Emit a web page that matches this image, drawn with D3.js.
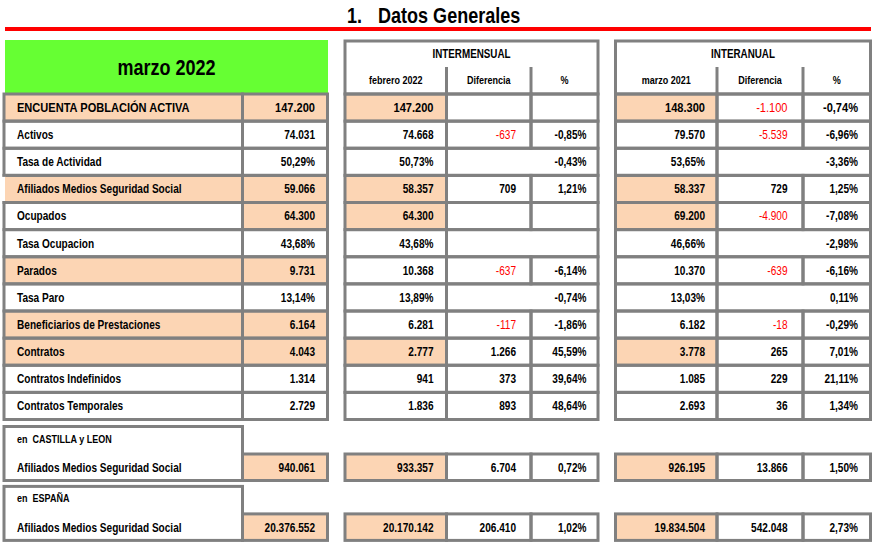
<!DOCTYPE html>
<html><head><meta charset="utf-8">
<script src="https://cdn.jsdelivr.net/npm/d3@7"></script>
<style>
body{margin:0;background:#fff}
svg{display:block}
text{font-family:"Liberation Sans",Arial,sans-serif;font-weight:bold;fill:#000;white-space:pre}
</style>
</head><body>
<svg id="c" width="882" height="544"></svg>
<script>
// ---------------- DATA ----------------
const title = "Datos Generales";
const titleNumber = "1.";
const currentMonth = "marzo 2022";
const monthlyHeader = "INTERMENSUAL";
const yearlyHeader = "INTERANUAL";
const previousMonth = "febrero 2022";
const previousYear = "marzo 2021";
const diffHeader = "Diferencia";
const pctHeader = "%";

const rowLabels = ["ENCUENTA POBLACIÓN ACTIVA","Activos","Tasa de Actividad","Afiliados Medios Seguridad Social","Ocupados","Tasa Ocupacion","Parados","Tasa Paro","Beneficiarios de Prestaciones","Contratos","Contratos Indefinidos","Contratos Temporales"];
const rateRows = [2,5,7];
const currentValues = [147200,74031,50.29,59066,64300,43.68,9731,13.14,6164,4043,1314,2729];
const prevMonthValues = [147200,74668,50.73,58357,64300,43.68,10368,13.89,6281,2777,941,1836];
const prevMonthDiff = [null,-637,null,709,null,null,-637,null,-117,1266,373,893];
const prevMonthPct = [null,-0.85,-0.43,1.21,null,null,-6.14,-0.74,-1.86,45.59,39.64,48.64];
const prevYearValues = [148300,79570,53.65,58337,69200,46.66,10370,13.03,6182,3778,1085,2693];
const prevYearDiff = [-1100,-5539,null,729,-4900,null,-639,null,-18,265,229,36];
const prevYearPct = [-0.74,-6.96,-3.36,1.25,-7.08,-2.98,-6.16,0.11,-0.29,7.01,21.11,1.34];

const highlightLabelRows = [0,3,6,8,9];
const highlightCurrentRows = [0,3,4,6,8,9];
const highlightPrevRows = [0,3,4,9];

const regionNames = ["en  CASTILLA y LEON","en  ESPAÑA"];
const regionLabel = "Afiliados Medios Seguridad Social";
const regionCurrent = [940061,20376552];
const regionPrevMonth = [933357,20170142];
const regionPrevMonthDiff = [6704,206410];
const regionPrevMonthPct = [0.72,1.02];
const regionPrevYear = [926195,19834504];
const regionPrevYearDiff = [13866,542048];
const regionPrevYearPct = [1.50,2.73];

// ---------------- LAYOUT ----------------
const GRAY="#808080", PEACH="#FCD5B4", GREEN="#66FF33", RED="#FF0000";
const NARROW = 0.82;
const svg = d3.select("#c");
const loc = d3.formatLocale({decimal:",",thousands:".",grouping:[3],currency:["","€"],minus:"-"});
const fInt = loc.format(",d");
const fDec = loc.format(",.2f");
const fPct = v => fDec(v)+"%";

const L = [4,242.5,327.5];
const M = [345,446.5,531,598];
const R = [615.5,717,803,870.5];

const y = d3.scaleBand().domain(d3.range(rowLabels.length)).range([94,419.5]);
const ry = d3.scaleBand().domain(d3.range(regionNames.length)).range([426.5,546.3]);
const regionH = 54;

const cells = [];
const texts = [];
const vlines = [];
function cell(x0,x1,y0,y1,fill){cells.push({x0,x1,y0,y1,fill});}
function txt(x,yy,s,opt={}){texts.push(Object.assign({x,y:yy,s,anchor:"end",size:12.3,color:"#000"},opt));}

// title
txt(347,22.5,titleNumber,{anchor:"start",size:22});
txt(378,22.5,title,{anchor:"start",size:22});
svg.append("rect").attr("x",5).attr("y",27).attr("width",866).attr("height",4).attr("fill",RED);

// green header
svg.append("rect").attr("x",5).attr("y",40).attr("width",323).attr("height",53).attr("fill",GREEN);
txt(166.5,75,currentMonth,{anchor:"middle",size:22});

// section headers
function header(C,name,sub){
  cell(C[0],C[3],41,94,"#fff");
  txt((C[0]+C[3])/2,57.8,name,{anchor:"middle",size:12});
  txt((C[0]+C[1])/2,84,sub,{anchor:"middle",size:11});
  txt((C[1]+C[2])/2,84,diffHeader,{anchor:"middle",size:11});
  txt((C[2]+C[3])/2,84,pctHeader,{anchor:"middle",size:11});
  vlines.push({x:C[1],y0:67,y1:94});
  vlines.push({x:C[2],y0:67,y1:94});
}
header(M,monthlyHeader,previousMonth);
header(R,yearlyHeader,previousYear);

const val = (v,i)=> v==null?"":(rateRows.includes(i)?fPct(v):fInt(v));
const gaps = [];
rowLabels.forEach((lab,i)=>{
  const y0=y(i), y1=y0+y.bandwidth(), cy=(y0+y1)/2;
  const fs = i===0?13.5:12.3;
  const bl = cy+0.36*fs;
  const isRate = rateRows.includes(i);
  cell(L[0],L[1],y0,y1,highlightLabelRows.includes(i)?PEACH:"#fff");
  cell(L[1],L[2],y0,y1,highlightCurrentRows.includes(i)?PEACH:"#fff");
  if(i===3) gaps.push([y0,y1]);
  txt(17,bl,lab,{anchor:"start",size:fs});
  txt(L[2]-12.5,bl,val(currentValues[i],i),{size:fs});
  // monthly
  cell(M[0],M[1],y0,y1,highlightPrevRows.includes(i)?PEACH:"#fff");
  txt(M[1]-13,bl,val(prevMonthValues[i],i),{size:fs});
  if(isRate){ cell(M[1],M[3],y0,y1,"#fff"); }
  else { cell(M[1],M[2],y0,y1,"#fff"); cell(M[2],M[3],y0,y1,"#fff"); }
  if(prevMonthDiff[i]!=null) txt(M[2]-15,bl,fInt(prevMonthDiff[i]),{size:fs,color:prevMonthDiff[i]<0?RED:"#000",weight:prevMonthDiff[i]<0?"normal":"bold"});
  if(prevMonthPct[i]!=null) txt(M[3]-11.5,bl,fPct(prevMonthPct[i]),{size:fs});
  // yearly
  cell(R[0],R[1],y0,y1,highlightPrevRows.includes(i)?PEACH:"#fff");
  txt(R[1]-12,bl,val(prevYearValues[i],i),{size:fs});
  if(isRate){ cell(R[1],R[3],y0,y1,"#fff"); }
  else { cell(R[1],R[2],y0,y1,"#fff"); cell(R[2],R[3],y0,y1,"#fff"); }
  if(prevYearDiff[i]!=null) txt(R[2]-15.5,bl,fInt(prevYearDiff[i]),{size:fs,color:prevYearDiff[i]<0?RED:"#000",weight:prevYearDiff[i]<0?"normal":"bold"});
  if(prevYearPct[i]!=null) txt(R[3]-12.5,bl,fPct(prevYearPct[i]),{size:fs});
});

// regions
regionNames.forEach((name,k)=>{
  const t=ry(k), b=t+regionH, m=t+27.5, cy=(m+b)/2, bl=cy+0.36*12.3;
  cell(L[0],L[1],t,b,"#fff");
  cell(L[1],L[2],m,b,PEACH);
  cell(M[0],M[1],m,b,PEACH); cell(M[1],M[2],m,b,"#fff"); cell(M[2],M[3],m,b,"#fff");
  cell(R[0],R[1],m,b,PEACH); cell(R[1],R[2],m,b,"#fff"); cell(R[2],R[3],m,b,"#fff");
  txt(17,t+16,name,{anchor:"start",size:11});
  txt(17,bl,regionLabel,{anchor:"start"});
  txt(L[2]-12.5,bl,fInt(regionCurrent[k]));
  txt(M[1]-13,bl,fInt(regionPrevMonth[k]));
  txt(M[2]-15,bl,fInt(regionPrevMonthDiff[k]));
  txt(M[3]-11.5,bl,fPct(regionPrevMonthPct[k]));
  txt(R[1]-12,bl,fInt(regionPrevYear[k]));
  txt(R[2]-15.5,bl,fInt(regionPrevYearDiff[k]));
  txt(R[3]-12.5,bl,fPct(regionPrevYearPct[k]));
});

// draw fills then borders
const g = svg.append("g");
g.selectAll("rect.f").data(cells).join("rect").attr("class","f")
  .attr("x",d=>d.x0).attr("y",d=>d.y0).attr("width",d=>d.x1-d.x0).attr("height",d=>d.y1-d.y0)
  .attr("fill",d=>d.fill);
g.selectAll("rect.s").data(cells).join("rect").attr("class","s")
  .attr("x",d=>d.x0).attr("y",d=>d.y0).attr("width",d=>d.x1-d.x0).attr("height",d=>d.y1-d.y0)
  .attr("fill","none").attr("stroke",GRAY).attr("stroke-width",3);
g.selectAll("line.v").data(vlines).join("line").attr("class","v")
  .attr("x1",d=>d.x).attr("x2",d=>d.x).attr("y1",d=>d.y0).attr("y2",d=>d.y1)
  .attr("stroke",GRAY).attr("stroke-width",3);
gaps.forEach(([a,b])=>{
  g.append("rect").attr("x",2).attr("y",a+1.5).attr("width",3).attr("height",b-a-3).attr("fill","#fff");
  g.append("rect").attr("x",5).attr("y",a+1.5).attr("width",1).attr("height",b-a-3).attr("fill",PEACH);
});
svg.append("g").selectAll("text").data(texts).join("text")
  .attr("xml:space","preserve")
  .attr("transform",d=>`translate(${d.x},${d.y}) scale(${NARROW},1)`)
  .attr("text-anchor",d=>d.anchor)
  .attr("font-size",d=>d.size).style("fill",d=>d.color)
  .style("font-weight",d=>d.weight||"bold").text(d=>d.s);
</script>
</body></html>
